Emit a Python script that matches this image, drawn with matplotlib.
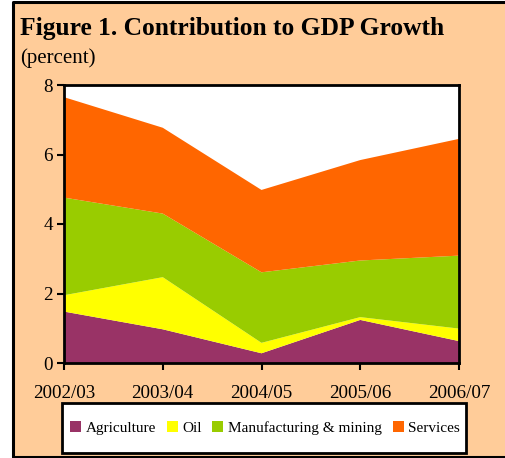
import matplotlib
matplotlib.use("Agg")
import matplotlib.pyplot as plt
from matplotlib.patches import Rectangle, Patch
from matplotlib.lines import Line2D

years = ["2002/03", "2003/04", "2004/05", "2005/06", "2006/07"]
agriculture = [1.48, 0.97, 0.28, 1.24, 0.63]
oil = [0.47, 1.50, 0.30, 0.08, 0.36]
manufacturing = [2.81, 1.83, 2.03, 1.63, 2.10]
services = [2.89, 2.47, 2.37, 2.89, 3.36]
labels = ["Agriculture", "Oil", "Manufacturing & mining", "Services"]
colors = ["#993366", "#FFFF00", "#99CC00", "#FF6600"]

plt.rcParams['font.family'] = ['Liberation Serif', 'DejaVu Serif']

W, H = 505, 458
fig = plt.figure(figsize=(W/100, H/100), dpi=100)
fig.patch.set_facecolor("white")
fig.patches.append(Rectangle((13/W, 1-457/H), 1.5, 455/H, transform=fig.transFigure,
                             facecolor="#FFCC99", edgecolor="none", zorder=-10))
bx = [1.2, 13/W, 13/W, 1.2]
by = [1-2/H, 1-2/H, 1-457/H, 1-457/H]
fig.lines.append(Line2D(bx, by, transform=fig.transFigure, color="black", linewidth=2.2))

fig.text(20/W, 1-34.5/H, "Figure 1. Contribution to GDP Growth", fontsize=18.4, fontweight="bold",
         va="baseline", ha="left")
fig.text(20/W, 1-63/H, "(percent)", fontsize=15, va="baseline", ha="left")

ax = fig.add_axes([64/W, 1-363/H, (459-64)/W, (363-85)/H])
x = list(range(len(years)))
ax.stackplot(x, agriculture, oil, manufacturing, services, colors=colors, linewidth=0)
ax.set_xlim(0, len(years)-1)
ax.set_ylim(0, 8)
ax.set_yticks([0, 2, 4, 6, 8])
ax.set_xticks(x)
ax.set_xticklabels(years)
ax.set_facecolor("white")
for s in ax.spines.values():
    s.set_linewidth(2)
    s.set_color("black")
ax.tick_params(axis="both", direction="out", length=5, width=1.5, labelsize=13.7, color="black")
ax.tick_params(axis="x", pad=11)
ax.tick_params(axis="y", pad=3)

# legend box
fig.patches.append(Rectangle((62/W, 1-453/H), (466-62)/W, 50/H, transform=fig.transFigure,
                             facecolor="white", edgecolor="black", linewidth=2, zorder=5))
handles = [Patch(facecolor=c, edgecolor="none") for c in colors]
leg = fig.legend(handles, labels, loc="center", bbox_to_anchor=(265/W, 1-428/H), ncol=4,
                 fontsize=11, frameon=False, handlelength=0.72, handleheight=0.72,
                 handletextpad=0.3, columnspacing=0.7, borderpad=0.0)
leg.set_zorder(6)

fig.savefig("out.png", dpi=100, facecolor=fig.get_facecolor())
